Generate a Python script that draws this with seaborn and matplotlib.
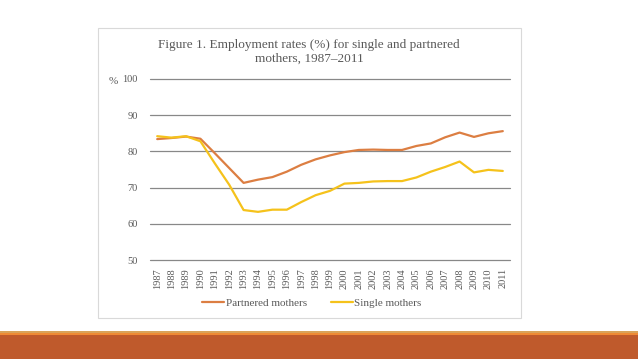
import pandas as pd
import matplotlib.pyplot as plt
import seaborn as sns
from matplotlib.patches import Rectangle

# Data
years = list(range(1987, 2012))
partnered = [83.4, 83.7, 84.1, 83.5, 79.5, 75.4, 71.3, 72.2, 72.9, 74.4, 76.3, 77.8,
             78.9, 79.8, 80.4, 80.5, 80.4, 80.4, 81.5, 82.2, 83.9, 85.2, 84.0, 85.0, 85.6]
single = [84.2, 83.8, 84.2, 82.8, 76.7, 70.8, 63.8, 63.3, 63.9, 63.9, 66.0, 67.9,
          69.1, 71.1, 71.3, 71.7, 71.8, 71.8, 72.8, 74.4, 75.7, 77.2, 74.2, 74.9, 74.6]
series_names = ['Partnered mothers', 'Single mothers']
colors = ['#DC7E42', '#F5C21B']

df = pd.DataFrame({
    'Year': years * 2,
    'Rate': partnered + single,
    'Group': [series_names[0]] * len(years) + [series_names[1]] * len(years),
})

sns.set_style('white')
plt.rcParams['font.family'] = ['Liberation Serif', 'DejaVu Serif']
text_col = '#595959'

fig = plt.figure(figsize=(6.38, 3.59), dpi=100)
fig.patch.set_facecolor('white')

# slide decorations: chart frame and bottom band
fig.patches.append(Rectangle((98 / 638, 1 - 318 / 359), 423 / 638, 290 / 359,
                             transform=fig.transFigure, fill=False,
                             edgecolor='#d9d9d9', linewidth=0.8))
fig.patches.append(Rectangle((0, 0), 1, 24 / 359, transform=fig.transFigure,
                             facecolor='#BF5A2C', edgecolor='none'))
fig.patches.append(Rectangle((0, 24 / 359), 1, 2 / 359, transform=fig.transFigure,
                             facecolor='#EE8A35', edgecolor='none'))
fig.patches.append(Rectangle((0, 26 / 359), 1, 2 / 359, transform=fig.transFigure,
                             facecolor='#D9A35A', edgecolor='none'))

ax = fig.add_axes([150 / 638, 99 / 359, 360 / 638, 181 / 359])
sns.lineplot(data=df, x='Year', y='Rate', hue='Group', palette=colors,
             linewidth=1.6, ax=ax, legend=True)

ax.set_xlim(1986.5, 2011.5)
ax.set_ylim(50, 100)
ax.set_yticks([50, 60, 70, 80, 90, 100])
ax.set_xticks(years)
ax.set_xticklabels([str(y) for y in years], rotation=90, fontsize=7.5, color=text_col)
ax.tick_params(axis='y', labelsize=7.5, labelcolor=text_col, length=0, pad=9)
ax.tick_params(axis='x', length=0, pad=6)
ax.grid(True, axis='y', color='#888888', linewidth=0.9)
ax.grid(False, axis='x')
ax.set_axisbelow(True)
for gl in ax.get_ygridlines():
    gl.set_clip_on(False)
for s in ax.spines.values():
    s.set_visible(False)
ax.set_xlabel('')
ax.set_ylabel('')

fig.text(113 / 638, 1 - 82 / 359, '%', fontsize=8, color=text_col, ha='center', va='center')
fig.text(309 / 638, 1 - 52 / 359,
         'Figure 1. Employment rates (%) for single and partnered\nmothers, 1987\u20132011',
         fontsize=9.5, color=text_col, ha='center', va='center', linespacing=1.15)

handles, labels = ax.get_legend_handles_labels()
ax.legend_.remove()
fig.legend(handles, labels, loc='center', bbox_to_anchor=(312 / 638, 1 - 303 / 359),
           ncol=2, frameon=False, fontsize=8, handlelength=2.0, handletextpad=0.1,
           columnspacing=2.2, labelcolor=text_col)

fig.savefig('out.png', dpi=100)
